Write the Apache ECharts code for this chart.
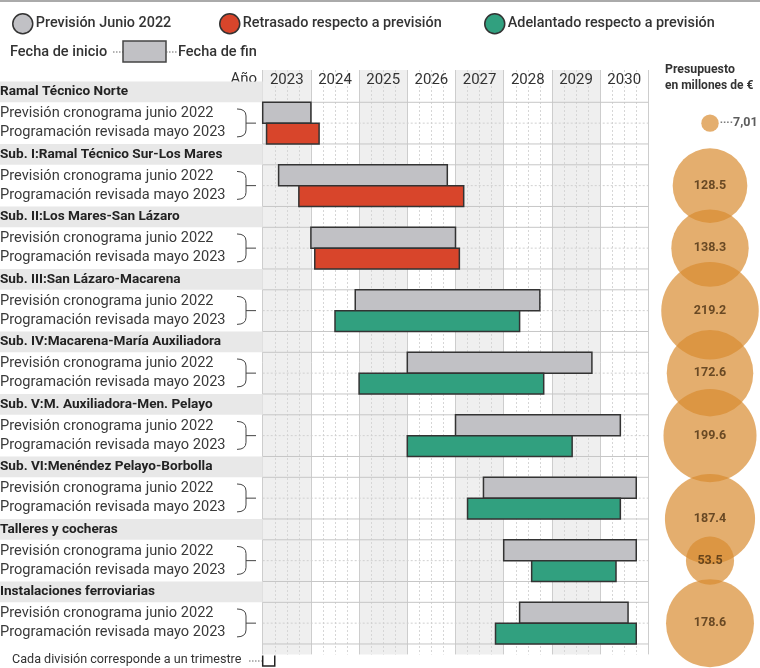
<!DOCTYPE html>
<html>
<head>
<meta charset="utf-8">
<script src="https://cdn.jsdelivr.net/npm/echarts@6/dist/echarts.min.js"></script>
<style>
html,body{margin:0;padding:0;background:#fff;}
#chart{width:760px;height:668px;}
</style>
</head>
<body>
<div id="chart"></div>
<script>
// ---------- data ----------
const years = ['2023','2024','2025','2026','2027','2028','2029','2030'];
const groups = [
  'Ramal Técnico Norte',
  'Sub. I:Ramal Técnico Sur-Los Mares',
  'Sub. II:Los Mares-San Lázaro',
  'Sub. III:San Lázaro-Macarena',
  'Sub. IV:Macarena-María Auxiliadora',
  'Sub. V:M. Auxiliadora-Men. Pelayo',
  'Sub. VI:Menéndez Pelayo-Borbolla',
  'Talleres y cocheras',
  'Instalaciones ferroviarias'
];
const rowLabels = ['Previsión cronograma junio 2022', 'Programación revisada mayo 2023'];
const planStart = [2023.0, 2023.33, 2024.0, 2024.92, 2026.0, 2027.0, 2027.58, 2028.0, 2028.33];
const planEnd   = [2024.0, 2026.83, 2027.0, 2028.75, 2029.83, 2030.42, 2030.75, 2030.75, 2030.58];
const revStart  = [2023.08, 2023.75, 2024.08, 2024.5, 2025.0, 2026.0, 2027.25, 2028.58, 2027.83];
const revEnd    = [2024.17, 2027.17, 2027.08, 2028.33, 2028.83, 2029.42, 2030.42, 2030.33, 2030.75];
const status    = ['R','R','R','A','A','A','A','A','A']; // R = retrasado, A = adelantado
const budget    = [7.01, 128.5, 138.3, 219.2, 172.6, 199.6, 187.4, 53.5, 178.6];

// ---------- layout ----------
const FONT = 'Roboto, "Noto Sans", sans-serif';
const GRID_TOP = 70, GRID_BOTTOM = 13.6;
const Y_MIN = -0.55, Y_MAX = 27.5;
const LEFT_W = 262.7;
const COL_GRAY = '#c1c1c5', COL_RED = '#d8452b', COL_GREEN = '#31a07f';

const chart = echarts.init(document.getElementById('chart'), null, {renderer:'canvas'});

function barItem(color){
  return function(params, api){
    const s = api.value(0), e = api.value(1), r = api.value(2);
    const p0 = api.coord([s, r]), p1 = api.coord([e, r + 1]);
    return {type:'rect', shape:{x:p0[0], y:p0[1], width:p1[0]-p0[0], height:p1[1]-p0[1]},
      style:{fill:color, stroke:'#333', lineWidth:1.5}};
  };
}

const grayData = groups.map((g,i)=>[planStart[i], planEnd[i], 3*i+1]);
const redData = [], greenData = [];
groups.forEach((g,i)=>{
  const d = [revStart[i], revEnd[i], 3*i+2];
  if (status[i] === 'R') redData.push(d); else greenData.push(d);
});

const lineRows = [];
groups.forEach((g,i)=>{
  if (i > 0) lineRows.push([3*i, 0]);
  lineRows.push([3*i+1, 0]);
  lineRows.push([3*i+2, 1]);
});
lineRows.push([27, 0]);

const bubbleData = groups.map((g,i)=>{
  const row = 3*i + 2 + (i === 6 ? 1 : 0);
  const item = {value:[0.5, row, budget[i]]};
  if (i === 0) {
    item.label = {position:'right', distance:1,
      formatter: '{d|····}{v|' + String(budget[i]).replace('.', ',') + '}',
      rich:{d:{color:'#555', fontSize:11, fontFamily:FONT}, v:{color:'#333', fontSize:12.5, fontWeight:'bold', fontFamily:FONT}}};
  }
  return item;
});

const legendBase = {
  top: 13, itemWidth: 20, itemHeight: 20, icon: 'circle', itemGap: 5, padding: 0,
  textStyle: {fontSize: 14.4, color: '#333', fontFamily: FONT, fontWeight: 500, padding:[0,0,0,-2]},
  itemStyle: {borderColor: '#333', borderWidth: 1.5},
  selectedMode: false
};

const option = {
  animation: false,
  backgroundColor: '#fff',
  legend: [
    Object.assign({}, legendBase, {left: 12, data: ['Previsión Junio 2022']}),
    Object.assign({}, legendBase, {left: 219, data: ['Retrasado respecto a previsión']}),
    Object.assign({}, legendBase, {left: 484, data: ['Adelantado respecto a previsión']})
  ],
  grid: [
    {left: LEFT_W, right: 760 - 648.3, top: GRID_TOP, bottom: GRID_BOTTOM},
    {left: 0, width: LEFT_W, top: GRID_TOP, bottom: GRID_BOTTOM},
    {left: 660, right: 0, top: GRID_TOP, bottom: GRID_BOTTOM}
  ],
  xAxis: [
    {gridIndex:0, type:'value', min:2023, max:2031, interval:1,
      axisLabel:{show:false}, axisLine:{show:false}, axisTick:{show:false},
      splitLine:{show:true, lineStyle:{color:'#cdcdcd', width:1}},
      minorTick:{show:false, splitNumber:4},
      minorSplitLine:{show:true, lineStyle:{color:'#d6d6d6', width:1, type:[2,2]}},
      splitArea:{show:true, areaStyle:{color:['#efefef','#ffffff']}}},
    {gridIndex:0, type:'category', data:years, position:'top', boundaryGap:true,
      axisLine:{show:false}, axisTick:{show:false}, splitLine:{show:false},
      axisLabel:{show:true, inside:true, margin:3, fontSize:15, color:'#333', fontFamily:FONT, verticalAlign:'top'}},
    {gridIndex:1, type:'value', min:0, max:LEFT_W, show:false},
    {gridIndex:2, type:'value', min:0, max:1, show:false}
  ],
  yAxis: [
    {gridIndex:0, type:'value', inverse:true, min:Y_MIN, max:Y_MAX, show:false},
    {gridIndex:1, type:'value', inverse:true, min:Y_MIN, max:Y_MAX, show:false},
    {gridIndex:2, type:'value', inverse:true, min:Y_MIN, max:Y_MAX, show:false}
  ],
  series: [
    {type:'custom', name:'rowLines', xAxisIndex:0, yAxisIndex:0, silent:true, z:1,
      data: lineRows,
      renderItem: function(params, api){
        const r = api.value(0), dashed = api.value(1);
        const a = api.coord([2023, r]), b = api.coord([2031, r]);
        return {type:'line', shape:{x1:a[0], y1:a[1], x2:b[0], y2:b[1]},
          style:{stroke: dashed ? '#d0d0d0' : '#c6c6c6', lineWidth:1, lineDash: dashed ? [2,2] : null}};
      }},
    {type:'custom', name:'Previsión Junio 2022', xAxisIndex:0, yAxisIndex:0, z:3,
      itemStyle:{color:COL_GRAY}, data:grayData, renderItem: barItem(COL_GRAY)},
    {type:'custom', name:'Retrasado respecto a previsión', xAxisIndex:0, yAxisIndex:0, z:3,
      itemStyle:{color:COL_RED}, data:redData, renderItem: barItem(COL_RED)},
    {type:'custom', name:'Adelantado respecto a previsión', xAxisIndex:0, yAxisIndex:0, z:3,
      itemStyle:{color:COL_GREEN}, data:greenData, renderItem: barItem(COL_GREEN)},
    {type:'custom', name:'labels', xAxisIndex:2, yAxisIndex:1, silent:true, z:2, clip:false,
      data: groups.map((g,i)=>[i]),
      renderItem: function(params, api){
        const i = api.value(0), r0 = 3*i;
        const b0 = api.coord([0, r0]), b1 = api.coord([LEFT_W, r0+1]);
        const h = api.coord([0, r0+0.5]);
        const t1 = api.coord([0, r0+1.55]), t2 = api.coord([0, r0+2.45]);
        const bt = api.coord([237, r0+1.32]), bm = api.coord([246, r0+2.0]), bb = api.coord([237, r0+2.66]);
        const xe = 256, xm = bm[0];
        const path = 'M' + bt[0] + ',' + bt[1] +
          ' Q' + xm + ',' + bt[1] + ' ' + xm + ',' + (bt[1]+7) +
          ' L' + xm + ',' + (bb[1]-7) +
          ' Q' + xm + ',' + bb[1] + ' ' + bb[0] + ',' + bb[1] +
          ' M' + xm + ',' + bm[1] + ' L' + xe + ',' + bm[1];
        return {type:'group', children:[
          {type:'rect', shape:{x:b0[0], y:b0[1], width:b1[0]-b0[0], height:b1[1]-b0[1]}, style:{fill:'#e8e8e8'}},
          {type:'text', x:h[0], y:h[1], style:{text:groups[i], font:'bold 13.6px ' + FONT, fill:'#222', align:'left', verticalAlign:'middle'}},
          {type:'text', x:t1[0], y:t1[1], style:{text:rowLabels[0], font:'14.6px ' + FONT, fill:'#3a3a3a', align:'left', verticalAlign:'middle'}},
          {type:'text', x:t2[0], y:t2[1], style:{text:rowLabels[1], font:'14.6px ' + FONT, fill:'#3a3a3a', align:'left', verticalAlign:'middle'}},
          {type:'path', shape:{pathData:path}, style:{fill:null, stroke:'#444', lineWidth:1}}
        ]};
      }},
    {type:'scatter', name:'Presupuesto', xAxisIndex:3, yAxisIndex:2, z:4, clip:false,
      data: bubbleData,
      symbolSize: function(val){ return 97.5*Math.sqrt(val[2]/219.2); },
      itemStyle:{color:'rgba(216,140,48,0.88)'},
      label:{show:true, position:'inside', fontSize:12.5, fontWeight:'bold', color:'#4a3012', fontFamily:FONT,
        formatter: function(p){ return p.value[2].toFixed(1); }}
    }
  ]
};
chart.setOption(option);

// annotations (legend / header / footer texts)
const q0 = chart.convertToPixel({xAxisIndex:0, yAxisIndex:0}, [2023, Y_MAX]);
const q1 = chart.convertToPixel({xAxisIndex:0, yAxisIndex:0}, [2023.25, Y_MAX]);
chart.setOption({
  graphic: [
    {type:'line', shape:{x1:0, y1:1, x2:760, y2:1}, style:{stroke:'#aaa', lineWidth:2}},
    {type:'text', x:10, y:52, style:{text:'Fecha de inicio', font:'500 14.5px ' + FONT, fill:'#333', verticalAlign:'middle'}},
    {type:'line', shape:{x1:113, y1:52, x2:123, y2:52}, style:{stroke:'#666', lineWidth:1, lineDash:[1.5,1.5]}},
    {type:'rect', shape:{x:123, y:41, width:43, height:21}, style:{fill:COL_GRAY, stroke:'#444', lineWidth:1.5}},
    {type:'line', shape:{x1:166, y1:52, x2:177, y2:52}, style:{stroke:'#666', lineWidth:1, lineDash:[1.5,1.5]}},
    {type:'text', x:178, y:52, style:{text:'Fecha de fin', font:'500 14.5px ' + FONT, fill:'#333', verticalAlign:'middle'}},
    {type:'text', x:257, y:79, style:{text:'Año', font:'15px ' + FONT, fill:'#333', align:'right', verticalAlign:'middle'}},
    {type:'text', x:665, y:70, style:{text:'Presupuesto', font:'bold 12.3px ' + FONT, fill:'#333', align:'left', verticalAlign:'middle'}},
    {type:'text', x:665, y:86, style:{text:'en millones de €', font:'bold 12px ' + FONT, fill:'#333', align:'left', verticalAlign:'middle'}},
    {type:'text', x:12, y:660, style:{text:'Cada división corresponde a un trimestre', font:'12.6px ' + FONT, fill:'#333', align:'left', verticalAlign:'middle'}},
    {type:'line', shape:{x1:249, y1:661, x2:q0[0]-1, y2:661}, style:{stroke:'#666', lineWidth:1, lineDash:[1.5,1.5]}},
    {type:'polyline', shape:{points:[[q0[0], q0[1]+1], [q0[0], 666], [q1[0], 666], [q1[0], q0[1]+1]]}, style:{fill:null, stroke:'#222', lineWidth:1.5}}
  ]
});
</script>
</body>
</html>
